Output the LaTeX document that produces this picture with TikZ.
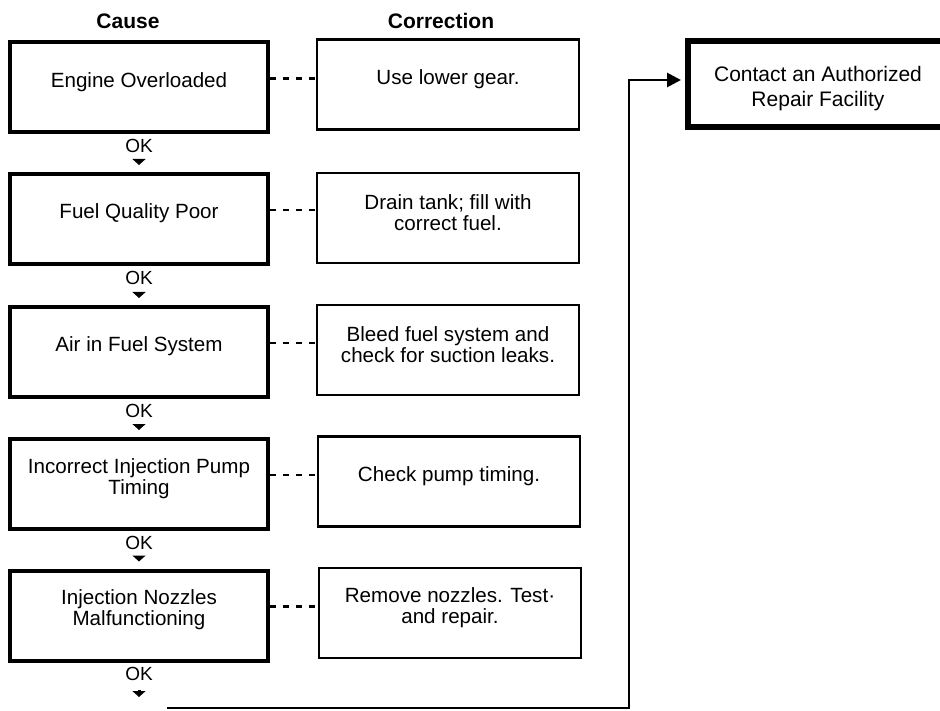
\documentclass[tikz,border=0pt]{standalone}
\usepackage{fontspec}
\setmainfont{Liberation Sans}
\usetikzlibrary{arrows.meta}
\newcommand\btxt[1]{\parbox[c][90pt][c]{254pt}{\centering #1\par\vspace{11pt}}}
\begin{document}
\begin{tikzpicture}[x=1pt,y=-1pt,
  causebox/.style={draw, line width=4pt, inner sep=0pt, minimum width=258pt, minimum height=90pt, font=\fontsize{20.6}{21}\selectfont},
  corrbox/.style={draw, line width=2.5pt, inner sep=0pt, minimum width=262pt, minimum height=90pt, font=\fontsize{20.6}{21}\selectfont},
  head/.style={font=\bfseries\fontsize{21}{24}\selectfont, inner sep=0pt},
  oklab/.style={font=\fontsize{19}{20}\selectfont, inner sep=0pt},
  okarrow/.style={line width=3pt, -{Triangle[width=13pt,length=6pt]}},
  dotline/.style={line width=2.2pt, dash pattern=on 6pt off 7pt},
  flow/.style={line width=2.8pt},
  contactbox/.style={draw, line width=6pt, inner sep=0pt, minimum width=260pt, minimum height=86pt, font=\fontsize{21}{25}\selectfont}
]
\useasboundingbox[fill=white] (0,0) rectangle (940,711);

\node[head] (hcause) at (128,21) {Cause};
\node[head] (hcorr) at (441,21) {Correction};

\node[causebox] (c1) at (139,87.5) {\btxt{Engine Overloaded}};
\node[causebox] (c2) at (139,219) {\btxt{Fuel Quality Poor}};
\node[causebox] (c3) at (139,352) {\btxt{Air in Fuel System}};
\node[causebox] (c4) at (139,484) {\btxt{Incorrect Injection Pump\\Timing}};
\node[causebox] (c5) at (139,615.5) {\btxt{Injection Nozzles\\Malfunctioning}};

\node[corrbox] (k1) at (448,84.5) {\btxt{Use lower gear.}};
\node[corrbox] (k2) at (448,218) {\btxt{Drain tank; fill with\\correct fuel.}};
\node[corrbox] (k3) at (448,350) {\btxt{Bleed fuel system and\\check for suction leaks.}};
\node[corrbox] (k4) at (449,481.5) {\btxt{Check pump timing.}};
\node[corrbox] (k5) at (450,613) {\btxt{Remove nozzles. Test·\\and repair.}};

\node[contactbox] (contact) at (818,84) {\parbox[c][80pt][c]{250pt}{\centering\vspace{10pt}Contact an Authorized\\Repair Facility}};

\foreach \i in {1,...,5}{
  \draw[dotline] ([yshift=9pt]c\i.east) -- ([yshift=9pt]c\i.east -| k\i.west);
  \node[oklab] (ok\i) at ([yshift=-11.5pt]c\i.south) {OK};
}
\draw[okarrow] ([yshift=-16pt]ok1.center) -- ([yshift=7pt]c2.north);
\draw[okarrow] ([yshift=-16pt]ok2.center) -- ([yshift=7pt]c3.north);
\draw[okarrow] ([yshift=-16pt]ok3.center) -- ([yshift=7pt]c4.north);
\draw[okarrow] ([yshift=-16pt]ok4.center) -- ([yshift=7pt]c5.north);
\coordinate (okend) at ([yshift=-23pt]ok5.center);
\draw[okarrow] ([yshift=-16pt]ok5.center) -- (okend);

\coordinate (fstart) at (167,708);
\coordinate (fcorner) at (629,708);
\draw[flow, -{Triangle[width=14pt,length=14pt]}] (fstart) -- (fcorner) |- ([xshift=-4pt,yshift=4pt]contact.west);
\end{tikzpicture}
\end{document}
